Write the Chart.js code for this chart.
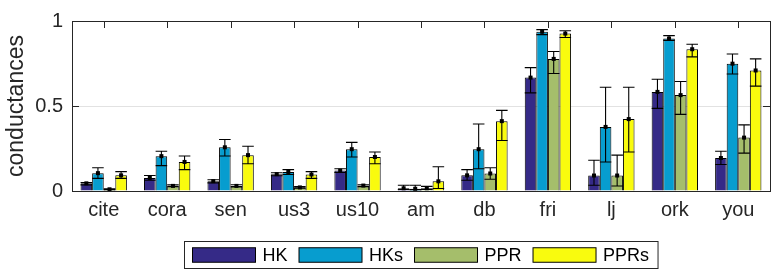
<!DOCTYPE html>
<html>
<head>
<meta charset="utf-8">
<script src="https://cdn.jsdelivr.net/npm/chart.js@4/dist/chart.umd.min.js"></script>
<style>
  html, body { margin: 0; padding: 0; background: #fff; }
  #wrap { width: 776px; height: 278px; }
</style>
</head>
<body>
<div id="wrap"><canvas id="c" width="776" height="278"></canvas></div>
<script>
// ---- data ----
const categories = ['cite','cora','sen','us3','us10','am','db','fri','lj','ork','you'];
const seriesNames = ['HK','HKs','PPR','PPRs'];
const seriesColors = ['#352a87','#079dcf','#a5be6b','#f9fb0e'];

const hkMean  = [0.045, 0.077, 0.058, 0.099, 0.120, 0.016, 0.092, 0.667, 0.091, 0.583, 0.194];
const hkLow   = [0.036, 0.063, 0.048, 0.090, 0.109, 0.009, 0.063, 0.577, 0.034, 0.486, 0.156];
const hkHigh  = [0.050, 0.091, 0.066, 0.107, 0.131, 0.034, 0.126, 0.726, 0.181, 0.657, 0.234];

const hksMean = [0.105, 0.205, 0.257, 0.112, 0.246, 0.013, 0.246, 0.937, 0.377, 0.897, 0.749];
const hksLow  = [0.074, 0.149, 0.206, 0.097, 0.200, 0.008, 0.131, 0.920, 0.171, 0.886, 0.688];
const hksHigh = [0.137, 0.234, 0.303, 0.126, 0.286, 0.034, 0.394, 0.949, 0.610, 0.914, 0.806];

const pprMean = [0.010, 0.030, 0.030, 0.021, 0.032, 0.016, 0.103, 0.777, 0.091, 0.564, 0.314];
const pprLow  = [0.007, 0.025, 0.024, 0.017, 0.026, 0.009, 0.069, 0.691, 0.029, 0.451, 0.223];
const pprHigh = [0.013, 0.036, 0.037, 0.026, 0.037, 0.027, 0.137, 0.821, 0.211, 0.644, 0.389];

const pprsMean = [0.092, 0.171, 0.211, 0.097, 0.200, 0.057, 0.411, 0.926, 0.423, 0.834, 0.709];
const pprsLow  = [0.074, 0.126, 0.160, 0.074, 0.160, 0.015, 0.297, 0.903, 0.229, 0.789, 0.617];
const pprsHigh = [0.114, 0.206, 0.263, 0.114, 0.229, 0.143, 0.474, 0.943, 0.610, 0.863, 0.777];

const yTicks = [0, 0.5, 1];
const yTickLabels = ['0', '0.5', '1'];

const means = [hkMean, hksMean, pprMean, pprsMean];
const lows  = [hkLow, hksLow, pprLow, pprsLow];
const highs = [hkHigh, hksHigh, pprHigh, pprsHigh];

const AXIS = '#262626';
const FONT = '"Liberation Sans", Arial, Helvetica, sans-serif';

const datasets = seriesNames.map((name, i) => ({
  label: name,
  data: means[i],
  errLow: lows[i],
  errHigh: highs[i],
  backgroundColor: seriesColors[i],
  borderColor: '#000',
  borderWidth: 1,
  categoryPercentage: 0.73,
  barPercentage: 1.0
}));

const decor = {
  id: 'decor',
  afterDatasetsDraw(chart) {
    const ctx = chart.ctx, ys = chart.scales.y;
    ctx.save();
    ctx.strokeStyle = '#000';
    ctx.fillStyle = '#000';
    ctx.lineWidth = 1.1;
    chart.data.datasets.forEach((ds, i) => {
      const meta = chart.getDatasetMeta(i);
      meta.data.forEach((bar, j) => {
        const x = bar.x, w = bar.width;
        const yl = ys.getPixelForValue(ds.errLow[j]);
        const yh = ys.getPixelForValue(ds.errHigh[j]);
        const ym = ys.getPixelForValue(ds.data[j]);
        ctx.beginPath();
        ctx.moveTo(x, yl); ctx.lineTo(x, yh);
        ctx.moveTo(x - w / 2, yl); ctx.lineTo(x + w / 2, yl);
        ctx.moveTo(x - w / 2, yh); ctx.lineTo(x + w / 2, yh);
        ctx.stroke();
        ctx.fillRect(x - 2, ym - 2, 4, 4);
      });
    });
    ctx.restore();
  },
  afterDraw(chart) {
    const ctx = chart.ctx, a = chart.chartArea, xs = chart.scales.x, ys = chart.scales.y;
    ctx.save();
    // frame
    ctx.strokeStyle = AXIS;
    ctx.lineWidth = 1;
    ctx.strokeRect(Math.round(a.left) + 0.5, Math.round(a.top) + 0.5,
                   Math.round(a.right - a.left), Math.round(a.bottom - a.top));
    // ticks
    const tl = 7;
    ctx.beginPath();
    categories.forEach((c, j) => {
      const x = Math.round(xs.getPixelForValue(j)) + 0.5;
      ctx.moveTo(x, a.top); ctx.lineTo(x, a.top + tl);
    });
    yTicks.forEach(v => {
      const y = Math.round(ys.getPixelForValue(v)) + 0.5;
      ctx.moveTo(a.left, y); ctx.lineTo(a.left + tl, y);
      ctx.moveTo(a.right, y); ctx.lineTo(a.right - tl, y);
    });
    ctx.stroke();

    // legend
    ctx.font = '18px ' + FONT;
    const sw = 63, sh = 14.5, gapT = 7, gapI = 11.5, padL = 8, padR = 9;
    const tw = seriesNames.map(n => ctx.measureText(n).width);
    const total = padL + padR + seriesNames.length * (sw + gapT) + tw.reduce((s, v) => s + v, 0) + gapI * (seriesNames.length - 1);
    const cx = (a.left + a.right) / 2;
    const bx = Math.round(cx - total / 2) + 0.5, by = 241.5, bh = 27;
    ctx.fillStyle = '#fff';
    ctx.fillRect(bx, by, total, bh);
    ctx.strokeStyle = AXIS;
    ctx.strokeRect(bx, by, total, bh);
    let x = bx + padL;
    const cy = by + bh / 2;
    ctx.textBaseline = 'middle';
    ctx.textAlign = 'left';
    seriesNames.forEach((n, i) => {
      ctx.fillStyle = seriesColors[i];
      ctx.fillRect(x, cy - sh / 2, sw, sh);
      ctx.strokeStyle = '#000';
      ctx.strokeRect(x, cy - sh / 2, sw, sh);
      x += sw + gapT;
      ctx.fillStyle = '#000';
      ctx.fillText(n, x, cy + 1);
      x += tw[i] + gapI;
    });
    ctx.restore();
  }
};

new Chart(document.getElementById('c'), {
  type: 'bar',
  data: { labels: categories, datasets },
  options: {
    responsive: false,
    animation: false,
    devicePixelRatio: 1,
    layout: { padding: { top: 16, right: 6, left: 0, bottom: 0 } },
    plugins: { legend: { display: false }, tooltip: { enabled: false } },
    scales: {
      x: {
        grid: { display: false, drawTicks: false },
        border: { display: false },
        ticks: { color: AXIS, font: { family: FONT, size: 20 }, padding: 7, maxRotation: 0 },
        afterFit(s) { s.height = 87; }
      },
      y: {
        min: 0, max: 1,
        afterBuildTicks(s) { s.ticks = yTicks.map(v => ({ value: v })); },
        grid: {
          drawTicks: false,
          color: ctx => (ctx.tick && ctx.tick.value === 0.5) ? '#e2e2e2' : 'rgba(0,0,0,0)',
          lineWidth: 1
        },
        border: { display: false },
        ticks: {
          color: AXIS, font: { family: FONT, size: 20 }, padding: 9,
          callback: (v) => yTickLabels[yTicks.indexOf(v)]
        },
        title: { display: true, text: 'conductances', color: AXIS, font: { family: FONT, size: 23 }, padding: { top: 3, bottom: 0 } },
        afterFit(s) { s.width = 72; }
      }
    }
  },
  plugins: [decor]
});
</script>
</body>
</html>
